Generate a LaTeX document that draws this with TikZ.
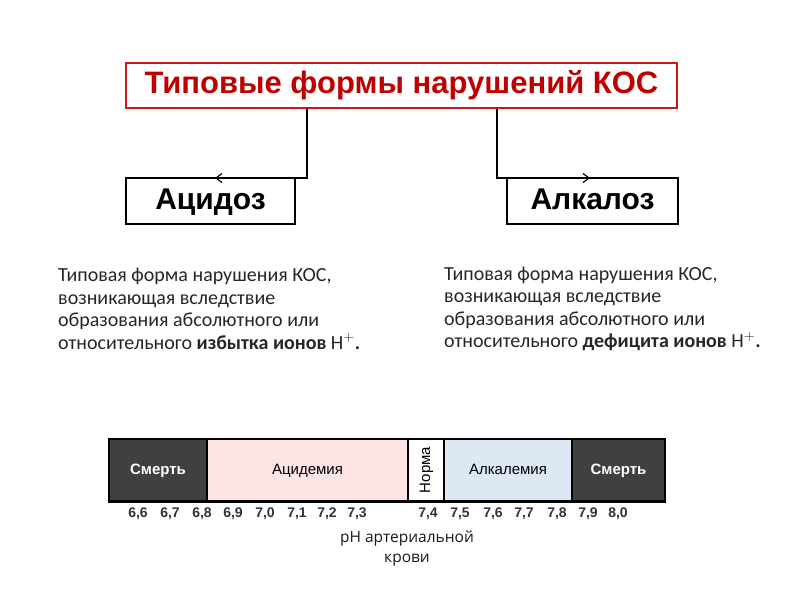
\documentclass[tikz,border=0pt]{standalone}
\usepackage{fontspec}
\usetikzlibrary{arrows.meta}
\setmainfont{Carlito}
\newfontfamily\arialfont{Liberation Sans}
\newfontfamily\opensans{Open Sans}
\definecolor{titlered}{RGB}{192,0,0}
\definecolor{deathgray}{RGB}{64,64,64}
\definecolor{acidpink}{RGB}{252,228,228}
\definecolor{alkblue}{RGB}{220,233,245}
\begin{document}
\begin{tikzpicture}[x=1pt,y=-1pt,
  headbox/.style={draw=black, line width=1.3pt, inner sep=0pt, minimum height=46pt, text height=21pt, text depth=5pt, font=\arialfont\bfseries\fontsize{30}{36}\selectfont},
  seg/.style={draw=black, line width=1.3pt, inner sep=0pt, minimum height=62pt, text height=11pt, text depth=3pt, font=\arialfont\fontsize{15}{18}\selectfont},
  deathseg/.style={seg, fill=deathgray, text=white, font=\arialfont\bfseries\fontsize{15}{18}\selectfont},
  desc/.style={anchor=west, align=left, inner sep=0pt, text=black!85, font=\fontsize{20}{22.5}\selectfont},
  ticklabel/.style={inner sep=0pt, text=black!80, font=\arialfont\bfseries\fontsize{14}{16}\selectfont},
  link/.style={black, line width=1.2pt, -{Straight Barb[length=6pt,width=9pt,line width=1.2pt]}}]
\useasboundingbox (0,0) rectangle (800,600);
\node (title) [draw=titlered!90, line width=1.5pt, minimum width=551pt, minimum height=45pt, text height=22pt, text depth=6pt, text=titlered, font=\arialfont\bfseries\fontsize{31}{36}\selectfont] at (401.5,85.5) {Типовые формы нарушений КОС};
\node (acid) [headbox, minimum width=169pt] at (210.5,201) {Ацидоз};
\node (alk) [headbox, minimum width=171pt] at (592.5,201) {Алкалоз};
\coordinate (lfork) at (307,0);
\coordinate (rfork) at (497,0);
\coordinate (acidtip) at (215,178);
\coordinate (alktip) at (590,178);
\draw [link] (title.south -| lfork) |- (acidtip);
\draw [link] (title.south -| rfork) |- (alktip);
\node (acidtext) [desc] at (58,309) {Типовая форма нарушения КОС,\\возникающая вследствие\\образования абсолютного или\\относительного \textbf{избытка ионов} $\mathrm{H}^{+}$\textbf{.}};
\node (alktext) [desc] at (444,309) {Типовая форма нарушения КОС,\\возникающая вследствие\\образования абсолютного или\\относительного \textbf{дефицита ионов} $\mathrm{H}^{+}$\textbf{.}};
\node (death1) [deathseg, minimum width=98pt] at (158,470) {Смерть};
\node (acidemia) [seg, fill=acidpink, minimum width=201pt] at (307.5,470) {Ацидемия};
\node (norm) [seg, fill=white, minimum width=62pt, minimum height=36pt, rotate=90] at (426,470) {Норма};
\node (alkalemia) [seg, fill=alkblue, minimum width=128pt] at (508,470) {Алкалемия};
\node (death2) [deathseg, minimum width=93pt] at (618.5,470) {Смерть};
\draw [black, line width=2.5pt] (death1.south west) -- (death2.south east);
\foreach \x/\a/\b in {138/6/6, 170/6/7, 202/6/8, 233/6/9, 265/7/0, 297/7/1, 327/7/2, 357/7/3,
  428/7/4, 460/7/5, 493/7/6, 524/7/7, 557/7/8, 588/7/9, 618/8/0}
  \node (tick\a\b) [ticklabel] at (\x,514) {\a,\b};
\node (phlabel) [inner sep=0pt, align=center, text=black!90, font=\opensans\fontsize{15.5}{20}\selectfont] at (407,548) {pH артериальной\\крови};
\end{tikzpicture}
\end{document}
